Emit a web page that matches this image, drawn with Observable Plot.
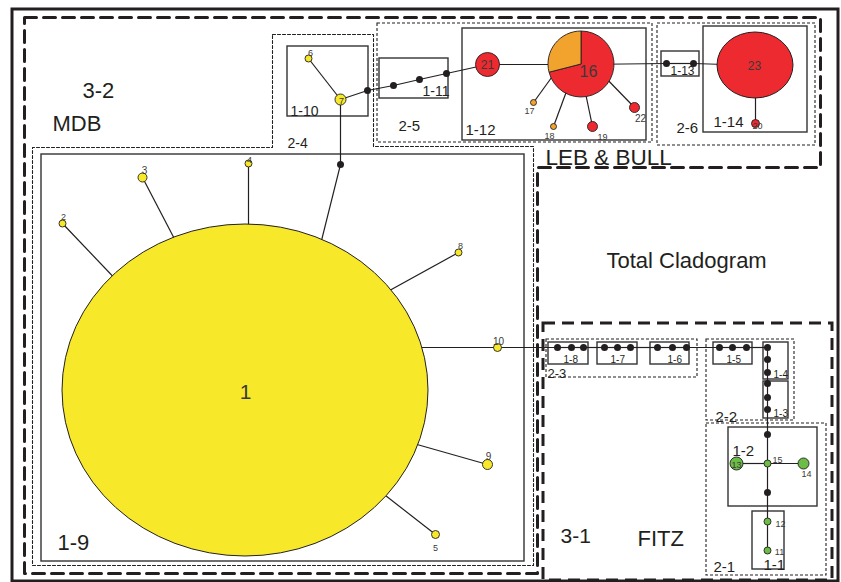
<!DOCTYPE html>
<html><head><meta charset="utf-8">
<script src="https://cdn.jsdelivr.net/npm/d3@7"></script>
<script src="https://cdn.jsdelivr.net/npm/@observablehq/plot@0.6"></script>
<style>body{margin:0;background:#fff} svg{display:block}</style>
</head><body><div id="chart"></div>
<script>
// ---- populations ----
const pops = ["MDB", "LEB", "BULL", "FITZ"];
const popColors = ["#f7e92a", "#ec2a2f", "#f2a32e", "#6cbd45"];

// ---- sampled haplotypes (circles) ----
const hapIds = ["2","3","4","5","6","7","8","9","10","11","12","13","14","15","17","18","19","20","21","22"];
const hapX   = [62,142,248,435,308,340,458,487,497,767,767,736,803,767,533,553,592,755,487,634];
const hapY   = [223,177,163,534,58,99,252,464,347,550,521,463,463,463,102,126,126,123,64,107];
const hapR   = [3.5,4.5,3.5,4,3.5,5.5,3.5,5,4,3.5,3.5,6.5,5.5,3.5,3,3,5,4,12,5];
const hapPop = ["MDB","MDB","MDB","MDB","MDB","MDB","MDB","MDB","MDB","FITZ","FITZ","FITZ","FITZ","FITZ","BULL","BULL","LEB","LEB","LEB","LEB"];

// ---- large haplotypes (ellipses / pie) ----
const bigIds = ["1","16","23"];
const bigX   = [245,581,755];
const bigY   = [390,64,65];
const bigRx  = [183,33,38];
const bigRy  = [166,33,33];
const bigPop = ["MDB","LEB","LEB"];
const pie16Pops   = ["LEB","BULL"];
const pie16Shares = [0.71,0.29];

// ---- missing (unsampled) haplotypes ----
const mvIds = ["m1","m2","k1","k2","k3","l1","l2","f1","f2","f3","f4","f5","f6","f7","f8","f9","f10","f11","f12","v1","v2","v3","v4","v5","v6","w1","w2"];
const mvX   = [367,340,393,419,446,666,693,557,571,583,604,617,630,657,672,686,719,732,746,767,767,767,767,767,767,767,767];
const mvY   = [90,164,85,79,73,63,63,347,347,347,347,347,347,347,347,347,347,347,347,347,359,372,383,397,409,434,492];

// ---- hidden junction points on the edge of large circles ----
const anchorIds = ["a2","a3","a4","am2","a8","a10","a9","a5","b17","b18","b19","b22"];
const anchorX   = [122,180,248,318,380,410,406,376,559,570,583,600];
const anchorY   = [286,250,240,252,295,347,441,488,66,80,83,72];

// ---- network chains (consecutive nodes are linked) ----
const chains = [
  ["2","a2"],["3","a3"],["4","a4"],["8","a8"],["9","a9"],["5","a5"],
  ["6","7"],
  ["am2","m2","7","m1","k1","k2","k3","21","16","l1","l2","23","20"],
  ["17","b17"],["18","b18"],["19","b19"],["22","b22"],
  ["a10","10","f1","f2","f3","f4","f5","f6","f7","f8","f9","f10","f11","f12","v1","v2","v3","v4","v5","v6","w1","15","w2","12","11"],
  ["13","15","14"]
];

// ---- nested clades ----
const step1Names = ["1-10","1-11","1-12","1-13","1-14","1-9","1-8","1-7","1-6","1-5","1-4","1-3","1-2","1-1"];
const step1X1 = [287,379,462,661,703,41,548,597,650,713,763,763,728,752];
const step1X2 = [368,448,646,699,807,524,588,637,689,752,788,788,817,784];
const step1Y1 = [46,58,28,51,26,154,342,342,342,342,342,381,427,511];
const step1Y2 = [116,98,140,76,132,561,364,364,364,364,379,418,506,569];

const step2Names = ["2-5","2-6","2-3","2-2","2-1"];
const step2X1 = [377,657,546,706,706];
const step2X2 = [652,815,697,794,826];
const step2Y1 = [23,23,339,339,423];
const step2Y2 = [142,145,377,420,575];
const clade24X = [272,373,373,533,533,32,32,272,272];
const clade24Y = [34,34,146,146,565,565,147,147,34];

const clade32X = [24,820,820,537,537,24,24];
const clade32Y = [17,17,167,167,573,573,17];
const clade31 = {x1:543, x2:832, y1:323, y2:580};
const frame = {x1:12, x2:838, y1:9, y2:581};

// ---- labels ----
const hapLabText = ["1","2","3","4","5","6","7","8","9","10","11","12","13","14","15","16","17","18","19","20","21","22","23"];
const hapLabX    = [245,63,144,249,435,310,341,460,488,498,779,780,736,806,777,588,529,549,602,757,487,640,754];
const hapLabY    = [392,217,170,160,548,53,101,246,456,341,552,524,465,474,460,71,111,136,137,126,65,118,66];
const hapLabSize = [21,9,10,9,9,9,9,9,10,10,9,9,9,9,9,16,9,9,9,9,12,10,12];

const cladeLabText = ["1-10","2-4","1-11","2-5","1-12","1-13","1-14","2-6","1-9","1-8","1-7","1-6","1-5","1-4","1-3","2-3","2-2","1-2","2-1","1-1","3-1","FITZ","3-2","MDB","LEB & BULL","Total Cladogram"];
const cladeLabX = [290,287,422,398,465,670,713,676,57,563,610,667,726,773,773,547,715,732,713,763,560,637,82,52,545,606];
const cladeLabY = [111,143,91,126,130,71,122,128,542,359,359,359,359,374,413,373,417,451,567,565,536,538,90,123,157,260];
const cladeLabSize = [14,14,14,15,15,12,15,15,22,10,10,10,10,10,10,13,15,15,15,15,21,22,22,22,22.5,22];

// ---- build tables ----
const nodes = new Map();
hapIds.forEach((id,i)=>nodes.set(id,{x:hapX[i],y:hapY[i]}));
bigIds.forEach((id,i)=>nodes.set(id,{x:bigX[i],y:bigY[i]}));
mvIds.forEach((id,i)=>nodes.set(id,{x:mvX[i],y:mvY[i]}));
anchorIds.forEach((id,i)=>nodes.set(id,{x:anchorX[i],y:anchorY[i]}));
const edges = [];
for (const c of chains) for (let i=1;i<c.length;i++){const a=nodes.get(c[i-1]),b=nodes.get(c[i]);edges.push({x1:a.x,y1:a.y,x2:b.x,y2:b.y});}

const haps = hapIds.map((id,i)=>({id,x:hapX[i],y:hapY[i],r:hapR[i],pop:hapPop[i]}));
const mvs = mvIds.map((id,i)=>({id,x:mvX[i],y:mvY[i]}));
const step1 = step1Names.map((n,i)=>({n,x1:step1X1[i],x2:step1X2[i],y1:step1Y1[i],y2:step1Y2[i]}));
const step2 = step2Names.map((n,i)=>({n,x1:step2X1[i],x2:step2X2[i],y1:step2Y1[i],y2:step2Y2[i]}));
const c24 = clade24X.map((x,i)=>({x,y:clade24Y[i]}));
const c32 = clade32X.map((x,i)=>({x,y:clade32Y[i]}));
const hapLabs = hapLabText.map((t,i)=>({t,x:hapLabX[i],y:hapLabY[i],s:hapLabSize[i]}));
const cladeLabs = cladeLabText.map((t,i)=>({t,x:cladeLabX[i],y:cladeLabY[i],s:cladeLabSize[i]}));

const INK = "#231f20";

// custom mark: large haplotypes drawn as ellipses / pie through the x & y scales
function bigHaplotypes(index, scales) {
  const sx = typeof scales.x === "function" ? scales.x : v=>v;
  const sy = typeof scales.y === "function" ? scales.y : v=>v;
  const col = p => popColors[pops.indexOf(p)];
  const g = d3.create("svg:g");
  bigIds.forEach((id,i)=>{
    const cx = sx(bigX[i]), cy = sy(bigY[i]);
    const rx = sx(bigX[i]+bigRx[i]) - cx, ry = sy(bigY[i]+bigRy[i]) - cy;
    if (id === "16") {
      const gg = g.append("g").attr("transform",`translate(${cx},${cy})`);
      let a0 = 0;
      pie16Shares.forEach((s,j)=>{
        const a1 = a0 + s*2*Math.PI;
        gg.append("path").attr("d", d3.arc()({innerRadius:0,outerRadius:rx,startAngle:a0,endAngle:a1}))
          .attr("fill", col(pie16Pops[j])).attr("stroke", INK).attr("stroke-width",0.9);
        a0 = a1;
      });
    } else {
      g.append("ellipse").attr("cx",cx).attr("cy",cy).attr("rx",rx).attr("ry",ry)
        .attr("fill", col(bigPop[i])).attr("stroke", INK).attr("stroke-width",1);
    }
  });
  return g.node();
}

const chart = Plot.plot({
  width: 841, height: 582, margin: 0,
  x: {domain:[0,841], range:[0,841], axis:null},
  y: {domain:[0,582], range:[0,582], axis:null},
  r: {type:"identity"},
  color: {domain: pops, range: popColors},
  style: {background:"#fff", fontFamily:"Liberation Sans, Arial, sans-serif", overflow:"visible"},
  marks: [
    Plot.rect([frame], {x1:"x1",x2:"x2",y1:"y1",y2:"y2", fill:"none", stroke:INK, strokeWidth:3}),
    Plot.line(c32, {x:"x", y:"y", stroke:INK, strokeWidth:3, strokeDasharray:"12,7"}),
    Plot.rect([clade31], {x1:"x1",x2:"x2",y1:"y1",y2:"y2", fill:"none", stroke:INK, strokeWidth:3, strokeDasharray:"12,7"}),
    Plot.line(c24, {x:"x", y:"y", stroke:INK, strokeWidth:1.1, strokeDasharray:"3,2"}),
    Plot.rect(step2, {x1:"x1",x2:"x2",y1:"y1",y2:"y2", fill:"none", stroke:INK, strokeWidth:1.1, strokeDasharray:"3,2"}),
    Plot.rect(step1, {x1:"x1",x2:"x2",y1:"y1",y2:"y2", fill:"none", stroke:"#333", strokeWidth:1.4}),
    Plot.link(edges, {x1:"x1",y1:"y1",x2:"x2",y2:"y2", stroke:INK, strokeWidth:1.2}),
    bigHaplotypes,
    Plot.dot(mvs, {x:"x", y:"y", r:3.5, fill:INK, stroke:"none"}),
    Plot.dot(haps, {x:"x", y:"y", r:"r", fill:"pop", stroke:INK, strokeWidth:0.9}),
    Plot.text(hapLabs, {x:"x", y:"y", text:"t", fontSize:d=>d.s, fill:"#3a3a3a", textAnchor:"middle"}),
    Plot.text(cladeLabs, {x:"x", y:"y", text:"t", fontSize:d=>d.s, fill:INK, textAnchor:"start"})
  ]
});
document.getElementById("chart").appendChild(chart);
</script>
</body></html>
